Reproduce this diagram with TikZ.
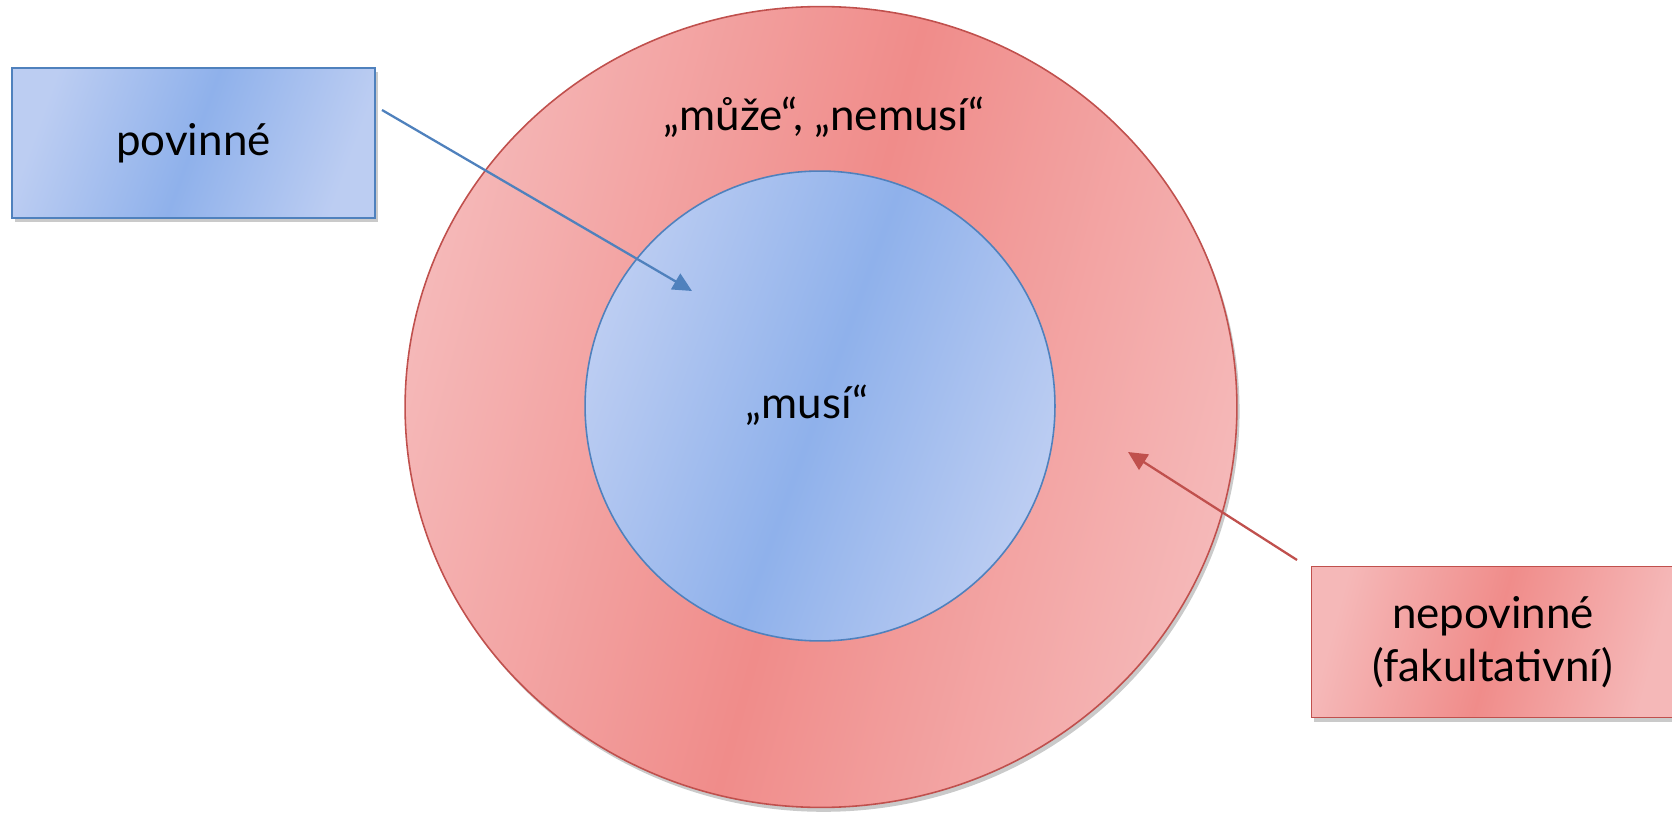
\documentclass[tikz,border=0pt]{standalone}
\usepackage{fontspec}
\setmainfont{Lato}
\usetikzlibrary{shapes.geometric,arrows.meta,shadows}
\definecolor{blueline}{HTML}{4F81BD}
\definecolor{redline}{HTML}{C0504D}
\definecolor{bluelight}{HTML}{BCCDF2}
\definecolor{bluemid}{HTML}{8FB1EB}
\definecolor{redlight}{HTML}{F5B8B8}
\definecolor{redmid}{HTML}{F08C8A}
\tikzset{
  softshadow/.style={drop shadow={shadow xshift=1.5pt,shadow yshift=-2.5pt,opacity=.35,fill=black!60}},
  bluefill/.style={draw=blueline,line width=.9pt,left color=bluelight,right color=bluelight,middle color=bluemid,shading angle=70},
  redfill/.style={draw=redline,line width=.9pt,left color=redlight,right color=redlight,middle color=redmid,shading angle=75},
  setlabel/.style={font=\fontsize{25}{30}\selectfont},
  labelbox/.style={rectangle,inner sep=0pt,minimum width=7.26cm,minimum height=3cm,softshadow,setlabel,align=center},
  pointer/.style={line width=1.3pt,-{Triangle[length=.38cm,width=.36cm]}}
}
\begin{document}
\begin{tikzpicture}[x=0.02cm,y=-0.02cm]
\useasboundingbox (0,0) rectangle (1672,813);
\clip (0,0) rectangle (1672,813);
% the two sets
\node[ellipse,redfill,softshadow,inner sep=0pt,minimum width=16.64cm,minimum height=16.02cm] (optional) at (821,407) {};
\node[circle,bluefill,inner sep=0pt,minimum size=9.4cm] (obligatory) at (820,406) {};
\node[setlabel] (maylabel) at (824,117) {„může“, „nemusí“};
\node[setlabel] (mustlabel) at (807,405) {„musí“};
% boxes
\node[labelbox,bluefill] (povinne) at (193.5,143) {povinné};
\node[labelbox,redfill,minimum height=3.02cm] (nepovinne) at (1493,642) {nepovinné\\(fakultativní)};
% pointers
\coordinate (povStart) at (382,110);
\coordinate (povTip) at (692,291);
\coordinate (nepStart) at (1297,560);
\coordinate (nepTip) at (1128,452);
\draw[pointer,blueline] (povStart) -- (povTip);
\draw[pointer,redline] (nepStart) -- (nepTip);
\end{tikzpicture}
\end{document}
